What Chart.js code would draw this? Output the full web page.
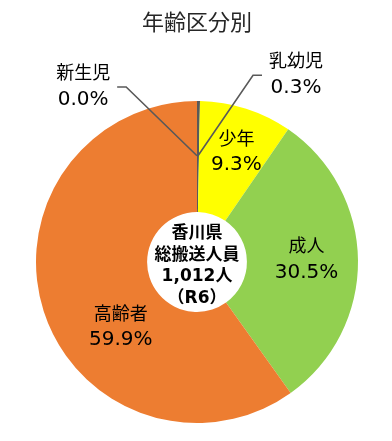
<!DOCTYPE html>
<html>
<head>
<meta charset="utf-8">
<script src="https://cdn.jsdelivr.net/npm/chart.js@4/dist/chart.umd.min.js"></script>
<style>
  html, body { margin: 0; padding: 0; background: #fff; }
  #ageChart { display: block; }
</style>
</head>
<body>
<canvas id="ageChart" width="392" height="441"></canvas>
<script>
// data
const titleText = '年齢区分別';
const categories = ['新生児', '乳幼児', '少年', '成人', '高齢者'];
const counts = [0, 3, 94, 309, 606];
const centerLines = ['香川県', '総搬送人員', '1,012人', '（R6）'];

const sliceColors = ['#A5A5A5', '#595959', '#FFFF00', '#92D050', '#ED7D31'];
const FONT = '"DejaVu Sans", "Noto Sans CJK JP", sans-serif';

// where each label sits: inside ones get a nudge from the 0.68 radius point,
// outside ones get an elbow point (in radius units from the centre)
const labelLayout = [
  { outside: true, elbow: [-0.44, -1.087], side: -1 },
  { outside: true, elbow: [0.348, -1.16], side: 1 },
  { dx: 6, dy: -5 },
  { dx: 0, dy: -1 },
  { dx: 28, dy: 32 }
];

const sliceLabels = {
  id: 'sliceLabels',
  afterDatasetsDraw(chart) {
    const ctx = chart.ctx;
    const meta = chart.getDatasetMeta(0);
    const total = counts.reduce((a, b) => a + b, 0);
    const nameFont = '18px ' + FONT;
    const pctFont = '20px ' + FONT;
    ctx.save();
    ctx.fillStyle = '#000';
    ctx.textBaseline = 'middle';
    ctx.textAlign = 'center';
    meta.data.forEach((arc, i) => {
      const p = arc.getProps(['x', 'y', 'startAngle', 'endAngle', 'outerRadius'], true);
      const mid = (p.startAngle + p.endAngle) / 2;
      const R = p.outerRadius;
      const pct = (counts[i] / total * 100).toFixed(1) + '%';
      const lay = labelLayout[i];
      let ax, ay;
      if (lay.outside) {
        const sx = p.x + Math.cos(mid) * R * 0.66;
        const sy = p.y + Math.sin(mid) * R * 0.66;
        const ex = p.x + lay.elbow[0] * R;
        const ey = p.y + lay.elbow[1] * R;
        const hx = ex + lay.side * 9;
        ctx.strokeStyle = '#595959';
        ctx.lineWidth = 1.6;
        ctx.beginPath();
        ctx.moveTo(sx, sy);
        ctx.lineTo(ex, ey);
        ctx.lineTo(hx, ey);
        ctx.stroke();
        ctx.font = nameFont;
        let w = ctx.measureText(categories[i]).width;
        ctx.font = pctFont;
        w = Math.max(w, ctx.measureText(pct).width);
        ax = hx + lay.side * (7 + w / 2);
        ay = ey;
      } else {
        ax = p.x + Math.cos(mid) * R * 0.68 + lay.dx;
        ay = p.y + Math.sin(mid) * R * 0.68 + lay.dy;
      }
      ctx.font = nameFont;
      ctx.fillText(categories[i], ax, ay - 12.5);
      ctx.font = pctFont;
      ctx.fillText(pct, ax, ay + 12.5);
    });

    // centre text
    const c = meta.data[0];
    ctx.font = 'bold 17px ' + FONT;
    centerLines.forEach((line, k) => {
      ctx.fillText(line, c.x, c.y + 4 + (k - 1.5) * 21.5);
    });
    ctx.restore();
  }
};

new Chart(document.getElementById('ageChart').getContext('2d'), {
  type: 'doughnut',
  data: {
    labels: categories,
    datasets: [{
      data: counts,
      backgroundColor: sliceColors,
      borderWidth: 0
    }]
  },
  options: {
    responsive: false,
    devicePixelRatio: 1,
    animation: false,
    cutout: '31%',
    layout: {
      padding: { left: 36, right: 34, top: 0, bottom: 18 }
    },
    plugins: {
      legend: { display: false },
      tooltip: { enabled: false },
      title: {
        display: true,
        text: titleText,
        color: '#262626',
        font: { family: FONT, size: 22, weight: 'normal' },
        padding: { top: 11, bottom: 63.6 }
      }
    }
  },
  plugins: [sliceLabels]
});
</script>
</body>
</html>
